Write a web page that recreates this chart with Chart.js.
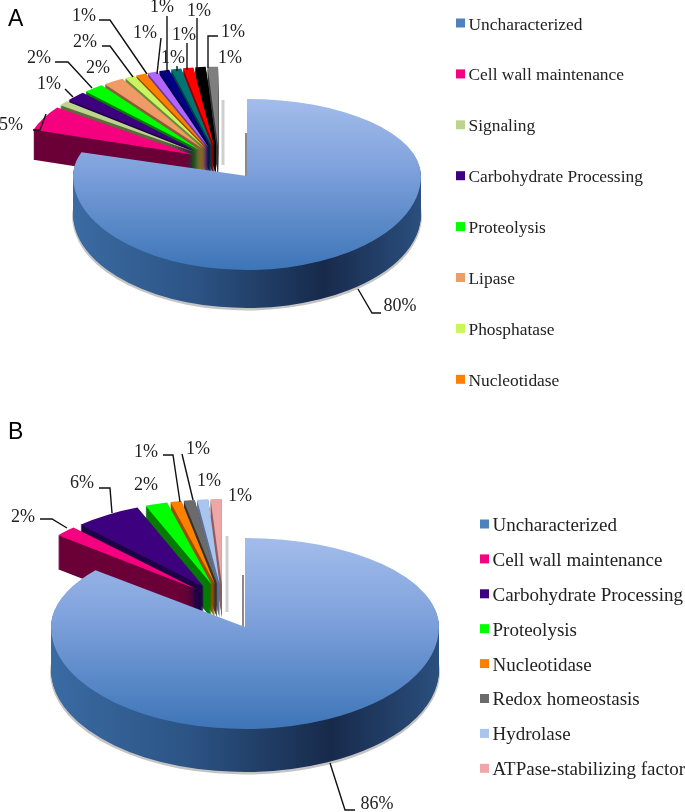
<!DOCTYPE html>
<html>
<head>
<meta charset="utf-8">
<style>
  html, body { margin: 0; padding: 0; background: #fff; }
  #wrap { position: relative; width: 685px; height: 812px; overflow: hidden; }
  canvas { position: absolute; left: 0; }
</style>
<script src="https://cdn.jsdelivr.net/npm/chart.js@4"></script>
</head>
<body>
<div id="wrap">
  <canvas id="chartA" width="685" height="410" style="top:0"></canvas>
  <canvas id="chartB" width="685" height="402" style="top:410px"></canvas>
</div>
<script>
const categoriesA = ['Uncharacterized', 'Cell wall maintenance', 'Signaling', 'Carbohydrate Processing',
  'Proteolysis', 'Lipase', 'Phosphatase', 'Nucleotidase'];
const valuesA = [80, 5, 1, 2, 2, 2, 1, 1, 1, 1, 1, 1, 1, 1];
const colorsA = ['#4f81bd', '#f5007f', '#bcd48e', '#3d007e', '#00ff00', '#ef9b68', '#c8f560', '#ff7f00',
  '#b366ff', '#000080', '#007373', '#ff0000', '#000000', '#7f7f7f'];
const wallsA = ['#234a7a', '#6b0038', '#5f6b3b', '#200047', '#067a06', '#8a5d36', '#6f8a3a', '#9a4f00',
  '#6b3a9a', '#000050', '#003f3f', '#8a0000', '#000000', '#3a3a3a'];

const categoriesB = ['Uncharacterized', 'Cell wall maintenance', 'Carbohydrate Processing', 'Proteolysis',
  'Nucleotidase', 'Redox homeostasis', 'Hydrolase', 'ATPase-stabilizing factor'];
const valuesB = [86, 2, 6, 2, 1, 1, 1, 1];
const colorsB = ['#4f81bd', '#f5007f', '#3d007e', '#00ff00', '#ff7f00', '#6b6b6b', '#a9c4ee', '#eea6a6'];
const wallsB = ['#234a7a', '#6b0038', '#200047', '#067a06', '#9a4f00', '#333333', '#5d7396', '#8f5f5f'];

// label centre, then the leader line (page coordinates, placed by hand like the original)
const labelsA = [
  { at: [400, 306], line: [[358, 289], [372, 313], [381, 313]] },
  { at: [11, 125], line: [[33, 130], [40, 130], [46, 114]] },
  { at: [49, 84], line: [[65, 89], [73, 97]] },
  { at: [39, 58], line: [[55, 62], [68, 62], [92, 88]] },
  { at: [98, 68] },
  { at: [85, 42], line: [[102, 46], [110, 46], [133, 77]] },
  { at: [84, 16], line: [[99, 20], [110, 20], [147, 74]] },
  { at: [145, 33], line: [[161, 38], [157, 74]] },
  { at: [162, 7], line: [[167, 16], [167, 72]] },
  { at: [173, 58], line: [[177, 66], [177, 71]] },
  { at: [184, 35], line: [[187, 43], [187, 70]] },
  { at: [199, 11], line: [[197, 18], [197, 69]] },
  { at: [233, 32], line: [[218, 36], [208, 36], [208, 68]] },
  { at: [230, 58] }
];
const labelsB = [
  { at: [377, 804], line: [[330, 763], [345, 810], [355, 810]] },
  { at: [23, 517], line: [[40, 519], [52, 519], [67, 528]] },
  { at: [82, 483], line: [[99, 488], [110, 488], [112, 513]] },
  { at: [146, 485] },
  { at: [146, 452], line: [[163, 455], [173, 455], [180, 502]] },
  { at: [198, 449], line: [[182, 454], [193, 500]] },
  { at: [209, 481] },
  { at: [240, 496] }
];

const SERIF = '"Liberation Serif", serif';

// squashes the library's arcs into a tilted pie and extrudes them downward
const tiltedPie = {
  id: 'tiltedPie',
  beforeDatasetsDraw(chart, args, o) {
    const ctx = chart.ctx;
    const arcs = chart.getDatasetMeta(0).data;
    const R = arcs[0].outerRadius;

    const paint = (arc, fill, gx, gy, rx, ry) => {
      const saved = arc.options;
      arc.options = { ...saved, backgroundColor: fill, borderWidth: 0 };
      ctx.save();
      ctx.translate(gx, gy);
      ctx.scale(rx / R, ry / R);
      ctx.translate(-arc.x, -arc.y);
      arc.draw(ctx);
      ctx.restore();
      arc.options = saved;
    };

    // fake perspective: the far half of the big slice is flatter than the near half
    const paintBig = (arc, fill, dy, grow) => {
      const y = o.cy + dy;
      ctx.save();
      ctx.beginPath();
      ctx.rect(0, y - 400, 685, 400);
      ctx.clip();
      paint(arc, fill, o.cx, y, o.rx * grow, o.ryFar * grow);
      ctx.restore();
      ctx.save();
      ctx.beginPath();
      ctx.rect(0, y, 685, 400);
      ctx.clip();
      paint(arc, fill, o.cx, y, o.rx * grow, o.ryNear * grow);
      ctx.restore();
    };

    ctx.save();
    ctx.translate(0, -o.top);

    // soft shadows the original leaves behind the cut
    o.shadows.forEach(s => {
      ctx.strokeStyle = s.color;
      ctx.lineWidth = s.width;
      ctx.beginPath();
      ctx.moveTo(s.from[0], s.from[1]);
      ctx.lineTo(s.to[0], s.to[1]);
      ctx.stroke();
    });

    // exploded small slices: walls from the top slice back to the front one, then the tops
    const place = arc => {
      const mid = (arc.startAngle + arc.endAngle) / 2;
      return [
        o.cx + o.shift[0] + Math.cos(mid) * o.explode,
        o.cy + o.shift[1] + Math.sin(mid) * o.explode * o.fanRy / o.fanRx
      ];
    };
    for (let i = arcs.length - 1; i > 0; i--) {
      const [gx, gy] = place(arcs[i]);
      for (let d = o.fanDepth; d > 0; d--) {
        paint(arcs[i], o.walls[i], gx, gy + d, o.fanRx, o.fanRy);
      }
    }
    arcs.forEach((arc, i) => {
      if (i === 0) return;
      const [gx, gy] = place(arc);
      paint(arc, arc.options.backgroundColor, gx, gy, o.fanRx, o.fanRy);
    });

    // the big slice goes last, it hides the foot of the fan
    const big = arcs[0];
    paintBig(big, '#c4c4c4', o.depth + 2, 1.005);
    const wall = ctx.createLinearGradient(big.x - R, 0, big.x + R, 0);
    wall.addColorStop(0, '#3a6ba3');
    wall.addColorStop(0.35, '#2c5485');
    wall.addColorStop(0.72, '#172a4b');
    wall.addColorStop(1, '#2b4f7e');
    for (let d = o.depth; d > 0; d--) {
      paintBig(big, wall, d, 1);
    }
    const face = ctx.createLinearGradient(0, big.y - R, 0, big.y + R);
    face.addColorStop(0, '#a2bceb');
    face.addColorStop(0.45, '#7fa2dc');
    face.addColorStop(1, '#3d75b7');
    paintBig(big, face, 0, 1);

    ctx.restore();
    return false;
  },
  afterDraw(chart, args, o) {
    const ctx = chart.ctx;
    const values = chart.data.datasets[0].data;
    ctx.save();
    ctx.translate(0, -o.top);

    // leader lines and percent labels
    ctx.strokeStyle = '#111';
    ctx.lineWidth = 1.4;
    ctx.textAlign = 'center';
    ctx.textBaseline = 'middle';
    ctx.fillStyle = '#222';
    ctx.font = `${o.labelSize}px ${SERIF}`;
    o.labels.forEach((l, i) => {
      if (l.line) {
        ctx.beginPath();
        l.line.forEach((p, j) => (j ? ctx.lineTo(p[0], p[1]) : ctx.moveTo(p[0], p[1])));
        ctx.stroke();
      }
      ctx.fillText(values[i] + '%', l.at[0], l.at[1]);
    });

    // legend
    ctx.textAlign = 'left';
    ctx.font = `${o.legendSize}px ${SERIF}`;
    chart.data.labels.forEach((name, i) => {
      const y = o.legend.y + i * o.legend.step;
      ctx.fillStyle = chart.data.datasets[0].backgroundColor[i];
      ctx.fillRect(o.legend.x, y - 4.5, 9, 9);
      ctx.fillStyle = '#222';
      ctx.fillText(name, o.legend.x + 12.5, y + 2);
    });

    // panel letter
    ctx.fillStyle = '#000';
    ctx.font = '23px "Liberation Sans", sans-serif';
    ctx.fillText(o.letter, 8, o.letterY);
    ctx.restore();
  }
};

function makeChart(id, categories, values, colors, view) {
  return new Chart(document.getElementById(id), {
    type: 'pie',
    data: {
      labels: categories,
      datasets: [{ data: values, backgroundColor: colors, borderWidth: 0 }]
    },
    options: {
      responsive: false,
      animation: false,
      events: [],
      plugins: {
        legend: { display: false },
        tooltip: { enabled: false },
        tiltedPie: view
      }
    },
    plugins: [tiltedPie]
  });
}

makeChart('chartA', categoriesA, valuesA, colorsA, {
  top: 0, cx: 247, cy: 176, rx: 174, ryFar: 77, ryNear: 94, depth: 38,
  shift: [-28, -15], explode: 30, fanRx: 167, fanRy: 80, fanDepth: 30,
  walls: wallsA, labels: labelsA, labelSize: 18, legendSize: 17.4,
  legend: { x: 456, y: 23, step: 50.9 }, letter: 'A', letterY: 20,
  shadows: [
    { from: [223, 100], to: [223, 165], color: '#cfcfcf', width: 3 },
    { from: [246, 133], to: [246, 176], color: '#8a8a8a', width: 2 }
  ]
});

makeChart('chartB', categoriesB, valuesB, colorsB, {
  top: 410, cx: 245, cy: 627, rx: 194, ryFar: 89, ryNear: 102, depth: 43,
  shift: [-22, -26], explode: 36, fanRx: 180, fanRy: 85, fanDepth: 34,
  walls: wallsB, labels: labelsB, labelSize: 18, legendSize: 19,
  legend: { x: 480, y: 524, step: 34.9 }, letter: 'B', letterY: 433,
  shadows: [
    { from: [227, 536], to: [227, 612], color: '#cfcfcf', width: 3 },
    { from: [243, 575], to: [243, 627], color: '#8a8a8a', width: 2 }
  ]
});
</script>
</body>
</html>
